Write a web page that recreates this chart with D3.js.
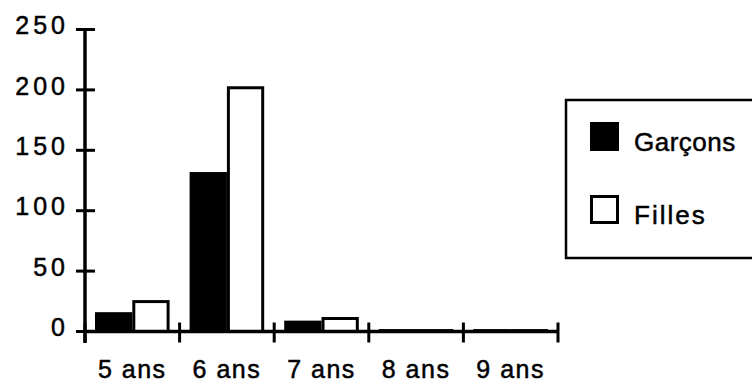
<!DOCTYPE html>
<html>
<head>
<meta charset="utf-8">
<script src="https://cdn.jsdelivr.net/npm/d3@7"></script>
<style>
  body { margin: 0; background: #fff; }
  svg text { font-family: "Liberation Sans", Arial, sans-serif; fill: #000; stroke: #000; stroke-width: 0.5px; }
</style>
</head>
<body>
<div id="chart"></div>
<script>
"use strict";
// data
const categories = ["5 ans", "6 ans", "7 ans", "8 ans", "9 ans"];
const series = ["Garçons", "Filles"];
const garcons = [16, 132, 9, 2, 2];
const filles = [26, 203, 12, 2, 2];
const yTicks = [0, 50, 100, 150, 200, 250];

const W = 752, H = 382;
const svg = d3.select("#chart").append("svg").attr("width", W).attr("height", H);

const x = d3.scaleBand().domain(categories).range([85, 558]);
const x1 = d3.scaleBand().domain(series).range([10, x.bandwidth() - 10]);
const y = d3.scaleLinear().domain([0, 250]).range([331.5, 29.5]);

const rows = categories.map((c, i) => ({ cat: c, vals: [garcons[i], filles[i]] }));

// bars
const g = svg.append("g");
rows.forEach(r => {
  r.vals.forEach((v, j) => {
    const s = series[j];
    if (j === 0) {
      g.append("rect")
        .attr("x", x(r.cat) + x1(s))
        .attr("y", y(v))
        .attr("width", x1.bandwidth())
        .attr("height", y(0) - y(v))
        .attr("fill", "#000");
    } else {
      g.append("rect")
        .attr("x", x(r.cat) + x1(s) + 1.5)
        .attr("y", y(v) + 1.5)
        .attr("width", x1.bandwidth() - 3)
        .attr("height", Math.max(0, y(0) - y(v) - 1.5))
        .attr("fill", "#fff")
        .attr("stroke", "#000")
        .attr("stroke-width", 3);
    }
  });
});

// y axis
const yAxis = svg.append("g");
yAxis.append("line").attr("x1", 85).attr("x2", 85).attr("y1", y(250) - 1).attr("y2", 343)
  .attr("stroke", "#000").attr("stroke-width", 3.5);
yTicks.forEach(t => {
  yAxis.append("line").attr("x1", 76).attr("x2", 95).attr("y1", y(t)).attr("y2", y(t))
    .attr("stroke", "#000").attr("stroke-width", 3);
  yAxis.append("text")
    .attr("x", 69).attr("y", y(t) - 2)
    .attr("text-anchor", "end")
    .attr("dominant-baseline", "middle")
    .attr("font-size", 25)
    .attr("letter-spacing", 4)
    .text(t);
});

// x axis
const xAxis = svg.append("g");
xAxis.append("line").attr("x1", 85).attr("x2", 558).attr("y1", y(0)).attr("y2", y(0))
  .attr("stroke", "#000").attr("stroke-width", 3.5);
categories.concat([null]).forEach(c => {
  const px = c === null ? x.range()[1] : x(c);
  xAxis.append("line").attr("x1", px).attr("x2", px).attr("y1", y(0) - 9).attr("y2", y(0) + 11)
    .attr("stroke", "#000").attr("stroke-width", 3);
});
categories.forEach(c => {
  xAxis.append("text")
    .attr("x", x(c) + x.bandwidth() / 2)
    .attr("y", 378)
    .attr("text-anchor", "middle")
    .attr("font-size", 25)
    .attr("letter-spacing", 1.5)
    .text(c);
});

// legend
const leg = svg.append("g");
leg.append("rect").attr("x", 566).attr("y", 100).attr("width", 200).attr("height", 158)
  .attr("fill", "none").attr("stroke", "#000").attr("stroke-width", 2.5);
const legY = [122, 195];
series.forEach((s, j) => {
  leg.append("rect")
    .attr("x", j === 0 ? 590 : 591.5).attr("y", j === 0 ? legY[j] : legY[j] + 1.5)
    .attr("width", j === 0 ? 29 : 26).attr("height", j === 0 ? 29 : 26)
    .attr("fill", j === 0 ? "#000" : "#fff")
    .attr("stroke", j === 0 ? "none" : "#000")
    .attr("stroke-width", 3);
  leg.append("text")
    .attr("x", 634).attr("y", legY[j] + 29)
    .attr("font-size", 26)
    .attr("letter-spacing", j === 0 ? 0.5 : 2)
    .text(s);
});
</script>
</body>
</html>
